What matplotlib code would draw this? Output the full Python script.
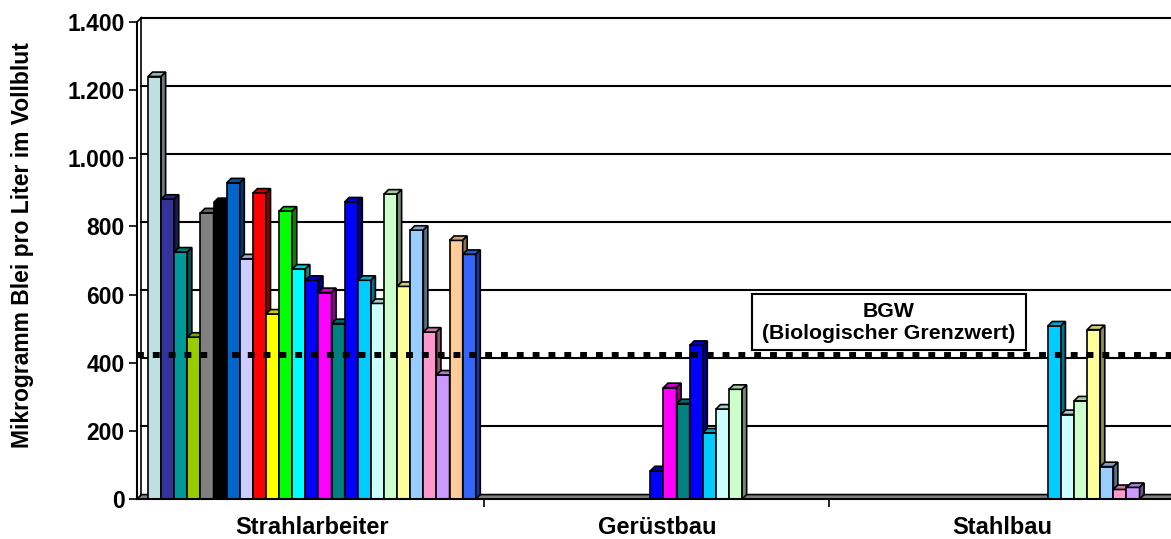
import matplotlib
matplotlib.use('Agg')
import matplotlib.pyplot as plt
from matplotlib.patches import Polygon, Rectangle
from matplotlib.colors import to_rgb

# categories and series values (µg/l), 25 series per category
categories = ['Strahlarbeiter', 'Gerüstbau', 'Stahlbau']
strahlarbeiter = [1240, 880, 725, 475, 840, 870, 928, 705, 898, 543, 845, 675, 642,
                  606, 515, 872, 642, 574, 895, 624, 789, 490, 364, 759, 718]
geruestbau = [0] * 12 + [83, 327, 280, 451, 194, 264, 322] + [0] * 6
stahlbau = [0] * 16 + [508, 248, 288, 497, 95, 28, 34] + [0] * 2
series_colors = ['#BFE0E0', '#333399', '#009999', '#99CC00', '#808080', '#000000',
                 '#0066CC', '#CCCCFF', '#FF0000', '#FFFF00', '#00FF00', '#00FFFF',
                 '#0000FF', '#FF00FF', '#008080', '#0000FF', '#00CCFF', '#CCFFFF',
                 '#CCFFCC', '#FFFF99', '#99CCFF', '#FF99CC', '#CC99FF', '#FFCC99',
                 '#3366FF']
y_ticks = [0, 200, 400, 600, 800, 1000, 1200, 1400]
y_tick_labels = ['0', '200', '400', '600', '800', '1.000', '1.200', '1.400']
bgw_level = 422

plt.rcParams['font.family'] = ['Liberation Sans', 'DejaVu Sans']
plt.rcParams['font.weight'] = 'bold'

fig = plt.figure(figsize=(11.71, 5.39), dpi=100)
ax = fig.add_axes([137 / 1171, 40 / 539, 1034 / 1171, 477 / 539])
x_min, x_max = -0.507, 2.49
ax.set_xlim(x_min, x_max)
ax.set_ylim(0, 1400)

# 3D depth offsets (data units)
dx, dy = 0.013, 13
w = 0.038


def shade(c, f):
    r, g, b = to_rgb(c)
    return (r * f, g * f, b * f)


# back wall gridlines and left wall
for v in y_ticks[1:]:
    ax.plot([x_min + dx, x_max], [v + dy, v + dy], color='black', lw=1.5,
            clip_on=False, zorder=1)
ax.plot([x_min + dx, x_min + dx], [dy, 1400 + dy], color='black', lw=1.2,
        clip_on=False, zorder=1)
ax.plot([x_min, x_min + dx], [1400, 1400 + dy], color='black', lw=1.2,
        clip_on=False, zorder=1)

# floor
ax.add_patch(Polygon([(x_min, 0), (x_max, 0), (x_max + dx, dy), (x_min + dx, dy)],
                     closed=True, facecolor='#808080', edgecolor='black', lw=1.2,
                     clip_on=False, zorder=1.5))

data = [strahlarbeiter, geruestbau, stahlbau]
for j, vals in enumerate(data):
    for i, h in enumerate(vals):
        if h <= 0:
            continue
        c = series_colors[i]
        x0 = j - 0.475 + i * w
        ax.bar(x0, h, width=w, align='edge', color=c, edgecolor='black', lw=1.2,
               zorder=2)
        ax.add_patch(Polygon([(x0, h), (x0 + w, h), (x0 + w + dx, h + dy), (x0 + dx, h + dy)],
                             closed=True, facecolor=shade(c, 0.8), edgecolor='black',
                             lw=1.2, zorder=2))
        ax.add_patch(Polygon([(x0 + w, 0), (x0 + w + dx, dy), (x0 + w + dx, h + dy), (x0 + w, h)],
                             closed=True, facecolor=shade(c, 0.55), edgecolor='black',
                             lw=1.2, zorder=2))

# BGW limit line
ax.axhline(bgw_level, color='black', lw=4.3, ls=(0, (1.15, 1.5)), zorder=5)
ax.add_patch(Rectangle((0.5948, 0.3124), 0.265, 0.1174, transform=ax.transAxes,
                       facecolor='white', edgecolor='black', lw=1.5, zorder=6))
ax.text(0.7273, 0.371, 'BGW\n(Biologischer Grenzwert)', transform=ax.transAxes,
        ha='center', va='center', fontsize=15.3, fontweight='bold',
        linespacing=1.2, zorder=7)

# axes styling
for s in ['top', 'right']:
    ax.spines[s].set_visible(False)
ax.spines['left'].set_linewidth(1.5)
ax.spines['bottom'].set_linewidth(1.5)
ax.set_yticks(y_ticks)
ax.set_yticklabels(y_tick_labels, fontsize=16.5, fontweight='bold')
ax.tick_params(axis='y', direction='out', length=6, width=1.2, pad=3)
ax.set_xticks(range(len(categories)))
ax.set_xticklabels(categories, fontsize=17, fontweight='bold')
ax.set_xticks([0.5, 1.5], minor=True)
ax.tick_params(axis='x', which='major', length=0, pad=12)
ax.tick_params(axis='x', which='minor', direction='out', length=6, width=1.2)
ax.set_ylabel('Mikrogramm Blei pro Liter im Vollblut', fontsize=16.5, fontweight='bold')
ax.yaxis.set_label_coords(-0.100, 0.532)

fig.savefig('out.png', dpi=100)
